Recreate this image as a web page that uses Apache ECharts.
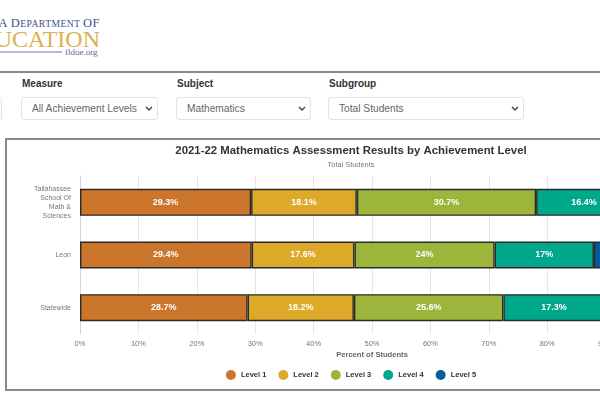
<!DOCTYPE html>
<html>
<head>
<meta charset="utf-8">
<title>Assessment Results</title>
<script src="https://cdn.jsdelivr.net/npm/echarts@6/dist/echarts.min.js"></script>
<style>
html, body { margin: 0; padding: 0; width: 600px; height: 400px; overflow: hidden; background: #fff; font-family: "Liberation Sans", Arial, sans-serif; }
.abs { position: absolute; white-space: nowrap; }
.rule { position: absolute; left: 0; width: 600px; height: 2px; top: 71px; background: #8a8a8a; }
.logo1 { right: 500px; top: 16px; font: 9.6px "Liberation Serif", serif; font-variant: small-caps; color: #3f4f8f; letter-spacing: .45px; }
.logo1b { font-size: 12.5px; }
.logo2 { right: 500px; top: 26px; font: 24px "Liberation Serif", serif; color: #d9b250; }
.logoline { left: 0; width: 62px; top: 51px; height: 2px; background: #b5bad6; }
.logo3 { left: 65px; top: 47px; font: 9px "Liberation Serif", serif; color: #5b6796; }
.lab { top: 78px; font-size: 10px; font-weight: bold; color: #333; }
.sel { top: 97px; height: 21px; line-height: 21px; border: 1px solid #dfe3e8; border-radius: 3px; font-size: 10.2px; color: #666; padding-left: 10px; }
.sel svg { position: absolute; right: 4px; top: 8px; }
.box { left: 5px; top: 138px; width: 700px; height: 249px; border: 2px solid #8a8a8a; }
#main { position: absolute; left: 0; top: 0; width: 702px; height: 400px; }
</style>
</head>
<body>
<div class="abs logo1"><span class="logo1b">F</span>LORID<span class="logo1b">A D</span>EPARTMENT <span class="logo1b">OF</span></div>
<div class="abs logo2">EDUCATION</div>
<div class="abs logoline"></div>
<div class="abs logo3">fldoe.org</div>
<div class="rule"></div>

<div class="abs sel" style="left:-60px;width:50px"></div>
<div class="abs lab" style="left:22px">Measure</div>
<div class="abs sel" style="left:21px;width:125px">All Achievement Levels<svg width="8" height="6"><path d="M1 1 L4 4 L7 1" fill="none" stroke="#444" stroke-width="1.4"/></svg></div>
<div class="abs lab" style="left:177px">Subject</div>
<div class="abs sel" style="left:176px;width:123px">Mathematics<svg width="8" height="6"><path d="M1 1 L4 4 L7 1" fill="none" stroke="#444" stroke-width="1.4"/></svg></div>
<div class="abs lab" style="left:329px">Subgroup</div>
<div class="abs sel" style="left:328px;width:184px">Total Students<svg width="8" height="6"><path d="M1 1 L4 4 L7 1" fill="none" stroke="#444" stroke-width="1.4"/></svg></div>

<div class="abs box"></div>
<div id="main"></div>

<script>
var categories = ['Tallahassee\nSchool Of\nMath &\nSciences', 'Leon', 'Statewide'];
var levelNames = ['Level 1', 'Level 2', 'Level 3', 'Level 4', 'Level 5'];
var level1 = [29.3, 29.4, 28.7];
var level2 = [18.1, 17.6, 18.2];
var level3 = [30.7, 24, 25.6];
var level4 = [16.4, 17, 17.3];
var level5 = [5.5, 12, 10.2];
var levelColors = ['#cc762b', '#dda928', '#9cb53a', '#00a88b', '#005f9f'];
var levelValues = [level1, level2, level3, level4, level5];

var myChart = echarts.init(document.getElementById('main'));

var fontName = '"Liberation Sans", Arial, sans-serif';

var option = {
    animation: false,
    title: {
        text: '2021-22 Mathematics Assessment Results by Achievement Level',
        subtext: 'Total Students',
        left: 'center',
        top: 140,
        itemGap: 5,
        textStyle: {fontFamily: fontName, fontSize: 11.4, fontWeight: 'bold', color: '#333'},
        subtextStyle: {fontFamily: fontName, fontSize: 7.4, color: '#777'}
    },
    legend: {
        data: levelNames,
        left: 'center',
        top: 365,
        icon: 'circle',
        itemWidth: 10,
        itemHeight: 10,
        itemGap: 12,
        itemStyle: {borderWidth: 0},
        textStyle: {fontFamily: fontName, fontSize: 7.5, fontWeight: 'bold', color: '#333'}
    },
    grid: {left: 80, right: 38, top: 176, height: 158},
    xAxis: {
        type: 'value',
        min: 0,
        max: 100,
        interval: 10,
        name: 'Percent of Students',
        nameLocation: 'middle',
        nameGap: 17,
        nameTextStyle: {fontFamily: fontName, fontSize: 7.6, fontWeight: 'bold', color: '#666'},
        axisLabel: {fontFamily: fontName, fontSize: 7.5, color: '#777', margin: 6, formatter: '{value}%'},
        axisLine: {show: false},
        axisTick: {show: false},
        splitLine: {show: true, lineStyle: {color: '#e6e6e6', width: 1}}
    },
    yAxis: {
        type: 'category',
        inverse: true,
        data: categories,
        axisLabel: {fontFamily: fontName, fontSize: 7, color: '#777', margin: 9, align: 'right', lineHeight: 9},
        axisLine: {show: true, lineStyle: {color: '#ccd6eb', width: 1}},
        axisTick: {show: false}
    },
    series: levelNames.map(function (name, i) {
        return {
            name: name,
            type: 'bar',
            stack: 'total',
            barWidth: 27,
            data: levelValues[i],
            itemStyle: {color: levelColors[i], borderColor: '#2b2b2b', borderWidth: 1.4},
            label: {
                show: true,
                position: 'inside',
                fontFamily: fontName,
                fontSize: 9,
                fontWeight: 'bold',
                color: '#fff',
                formatter: '{c}%'
            }
        };
    })
};

myChart.setOption(option);
</script>
</body>
</html>
